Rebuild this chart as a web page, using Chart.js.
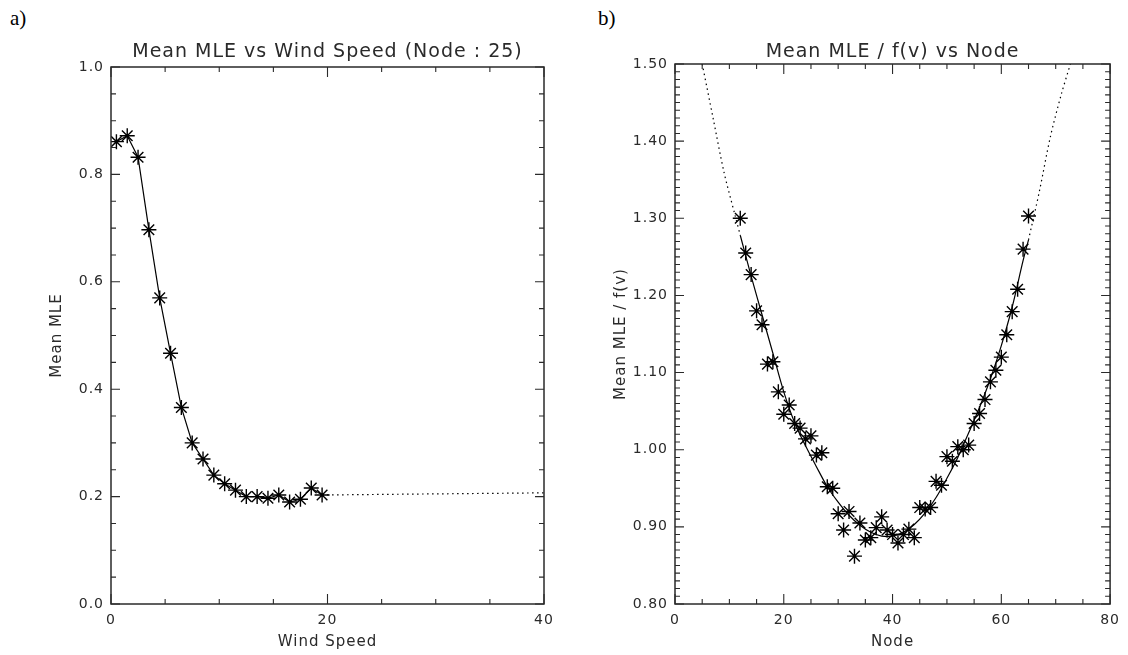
<!DOCTYPE html>
<html>
<head>
<meta charset="utf-8">
<script src="https://cdn.jsdelivr.net/npm/chart.js@4.4.1/dist/chart.umd.min.js"></script>
<style>
  body { margin: 0; background: #fff; width: 1128px; height: 655px; position: relative; overflow: hidden; }
  .panel { position: absolute; top: 0; width: 564px; height: 655px; }
  .tag { position: absolute; top: 6px; font-family: "Liberation Serif", serif; font-size: 21px; color: #000; }
</style>
</head>
<body>
<div class="tag" style="left:10px">a)</div>
<div class="tag" style="left:598px">b)</div>
<div class="panel" style="left:0"><canvas id="chartA" width="564" height="655"></canvas></div>
<div class="panel" style="left:564px"><canvas id="chartB" width="564" height="655"></canvas></div>
<script>
// --- panel a) Mean MLE vs wind speed, node 25 ---
const windSpeed = [0.5, 1.5, 2.5, 3.5, 4.5, 5.5, 6.5, 7.5, 8.5, 9.5,
                   10.5, 11.5, 12.5, 13.5, 14.5, 15.5, 16.5, 17.5, 18.5, 19.5];
const meanMle = [0.861, 0.872, 0.832, 0.697, 0.570, 0.467, 0.366, 0.300, 0.270, 0.240,
                 0.224, 0.212, 0.200, 0.200, 0.197, 0.203, 0.190, 0.195, 0.216, 0.203];
// dotted continuation to the end of the axis
const windExt = [19.5, 40];
const mleExt = [0.203, 0.207];

// --- panel b) Mean MLE / f(v) vs node ---
const nodes = [12, 13, 14, 15, 16, 17, 18, 19, 20, 21, 22, 23, 24, 25, 26, 27, 28, 29, 30,
               31, 32, 33, 34, 35, 36, 37, 38, 39, 40, 41, 42, 43, 44, 45, 46, 47, 48, 49,
               50, 51, 52, 53, 54, 55, 56, 57, 58, 59, 60, 61, 62, 63, 64, 65];
const mleRatio = [1.300, 1.255, 1.227, 1.180, 1.162, 1.111, 1.114, 1.075, 1.046, 1.058,
                  1.034, 1.028, 1.014, 1.018, 0.993, 0.996, 0.952, 0.950, 0.917,
                  0.896, 0.920, 0.862, 0.905, 0.883, 0.886, 0.899, 0.913, 0.896, 0.890,
                  0.879, 0.890, 0.897, 0.886, 0.925, 0.923, 0.925, 0.959, 0.954,
                  0.991, 0.985, 1.004, 1.000, 1.006, 1.034, 1.047, 1.065, 1.088, 1.103,
                  1.120, 1.149, 1.179, 1.208, 1.260, 1.303];
// fitted curve (solid part)
const fitNodes = [12, 14, 16, 18, 20, 22, 24, 26, 28, 30, 32, 34, 36, 38, 40,
                  42, 44, 46, 48, 50, 52, 54, 56, 58, 60, 62, 64, 65];
const fitRatio = [1.278, 1.225, 1.175, 1.125, 1.075, 1.035, 1.005, 0.978, 0.952, 0.932,
                  0.915, 0.902, 0.893, 0.888, 0.888, 0.893, 0.903, 0.918, 0.938, 0.963,
                  0.990, 1.022, 1.055, 1.092, 1.135, 1.185, 1.245, 1.272];
// dotted extrapolation of the fit
const extLeftNodes = [5, 7, 9, 11, 12];
const extLeftRatio = [1.500, 1.430, 1.360, 1.305, 1.278];
const extRightNodes = [65, 67, 69, 71, 72.7];
const extRightRatio = [1.272, 1.335, 1.405, 1.460, 1.500];

const FONT = 'DejaVu Sans';
const INK = '#2a2a2a';

function pts(xs, ys) {
    return xs.map((x, i) => ({ x: x, y: ys[i] }));
}

// the IDL vector font is wide, so open the letters up a bit
const wideText = {
    id: 'wideText',
    beforeUpdate(chart) { chart.ctx.letterSpacing = '1px'; },
    beforeDraw(chart) { chart.ctx.letterSpacing = '1px'; }
};

// IDL style frame: box with inward ticks on all four sides
const idlAxes = {
    id: 'idlAxes',
    afterDraw(chart, args, o) {
        const { ctx, chartArea: a, scales: { x, y } } = chart;
        ctx.save();
        ctx.strokeStyle = INK;
        ctx.lineWidth = 1.5;
        ctx.strokeRect(a.left, a.top, a.right - a.left, a.bottom - a.top);
        ctx.lineWidth = 1.1;
        ctx.beginPath();
        const isMajor = (v, step) => Math.abs(v / step - Math.round(v / step)) < 1e-6;
        const nx = Math.round((x.max - x.min) / o.xMinor);
        for (let i = 0; i <= nx; i++) {
            const v = x.min + i * o.xMinor;
            const px = x.getPixelForValue(v);
            const len = isMajor(v, o.xMajor) ? 10 : 5;
            ctx.moveTo(px, a.bottom); ctx.lineTo(px, a.bottom - len);
            ctx.moveTo(px, a.top); ctx.lineTo(px, a.top + len);
        }
        const ny = Math.round((y.max - y.min) / o.yMinor);
        for (let i = 0; i <= ny; i++) {
            const v = y.min + i * o.yMinor;
            const py = y.getPixelForValue(v);
            const len = isMajor(v, o.yMajor) ? 9 : 5;
            ctx.moveTo(a.left, py); ctx.lineTo(a.left + len, py);
            ctx.moveTo(a.right, py); ctx.lineTo(a.right - len, py);
        }
        ctx.stroke();
        ctx.restore();
    }
};

function baseOptions(cfg) {
    return {
        responsive: false,
        animation: false,
        layout: { padding: { left: 44, right: cfg.padRight, top: 0, bottom: 0 } },
        plugins: {
            legend: { display: false },
            tooltip: { enabled: false },
            title: {
                display: true,
                fullSize: false,
                text: cfg.title,
                color: INK,
                font: { family: FONT, size: 19, weight: 'normal', lineHeight: 1 },
                padding: { top: 43, bottom: cfg.titleGap }
            },
            idlAxes: cfg.ticks
        },
        scales: {
            x: {
                type: 'linear', min: cfg.xMin, max: cfg.xMax,
                grid: { display: false, drawTicks: false },
                border: { display: false },
                ticks: { stepSize: cfg.xStep, color: INK, padding: 8, font: { family: FONT, size: 14 } },
                title: { display: true, text: cfg.xTitle, color: INK, padding: { top: 0, bottom: 4 },
                         font: { family: FONT, size: 15 } },
                afterFit: s => { s.height = 51; }
            },
            y: {
                type: 'linear', min: cfg.yMin, max: cfg.yMax,
                grid: { display: false, drawTicks: false },
                border: { display: false },
                ticks: { stepSize: cfg.yStep, color: INK, padding: 7, font: { family: FONT, size: 14 },
                         callback: v => v.toFixed(cfg.yDigits) },
                title: { display: true, text: cfg.yTitle, color: INK, padding: { top: 4, bottom: 0 },
                         font: { family: FONT, size: 15 } },
                afterFit: s => { s.width = 67; }
            }
        }
    };
}

const starStyle = {
    pointStyle: 'star', pointRadius: 7.5, pointBorderWidth: 1.4,
    pointBorderColor: '#000', pointBackgroundColor: '#000'
};

new Chart(document.getElementById('chartA'), {
    type: 'scatter',
    data: {
        datasets: [
            Object.assign({ data: pts(windSpeed, meanMle), showLine: true, borderColor: '#000',
                            borderWidth: 1.2 }, starStyle),
            { data: pts(windExt, mleExt), showLine: true, borderColor: '#000', borderWidth: 1.2,
              borderDash: [1.5, 3.5], pointRadius: 0 }
        ]
    },
    options: baseOptions({
        title: 'Mean MLE vs Wind Speed (Node : 25)', titleGap: 5, padRight: 20,
        xMin: 0, xMax: 40, xStep: 20, yMin: 0, yMax: 1, yStep: 0.2, yDigits: 1,
        xTitle: 'Wind Speed', yTitle: 'Mean MLE',
        ticks: { xMinor: 5, xMajor: 20, yMinor: 0.05, yMajor: 0.2 }
    }),
    plugins: [wideText, idlAxes]
});

new Chart(document.getElementById('chartB'), {
    type: 'scatter',
    data: {
        datasets: [
            { data: pts(fitNodes, fitRatio), showLine: true, borderColor: '#000', borderWidth: 1.2,
              pointRadius: 0, tension: 0.3 },
            { data: pts(extLeftNodes, extLeftRatio), showLine: true, borderColor: '#000', borderWidth: 1.2,
              borderDash: [1.5, 3.5], pointRadius: 0, tension: 0.3 },
            { data: pts(extRightNodes, extRightRatio), showLine: true, borderColor: '#000', borderWidth: 1.2,
              borderDash: [1.5, 3.5], pointRadius: 0, tension: 0.3 },
            Object.assign({ data: pts(nodes, mleRatio), showLine: false }, starStyle)
        ]
    },
    options: baseOptions({
        title: 'Mean MLE / f(v) vs Node', titleGap: 2, padRight: 16,
        xMin: 0, xMax: 80, xStep: 20, yMin: 0.8, yMax: 1.5, yStep: 0.1, yDigits: 2,
        xTitle: 'Node', yTitle: 'Mean MLE / f(v)',
        ticks: { xMinor: 5, xMajor: 20, yMinor: 0.01, yMajor: 0.1 }
    }),
    plugins: [wideText, idlAxes]
});
</script>
</body>
</html>
